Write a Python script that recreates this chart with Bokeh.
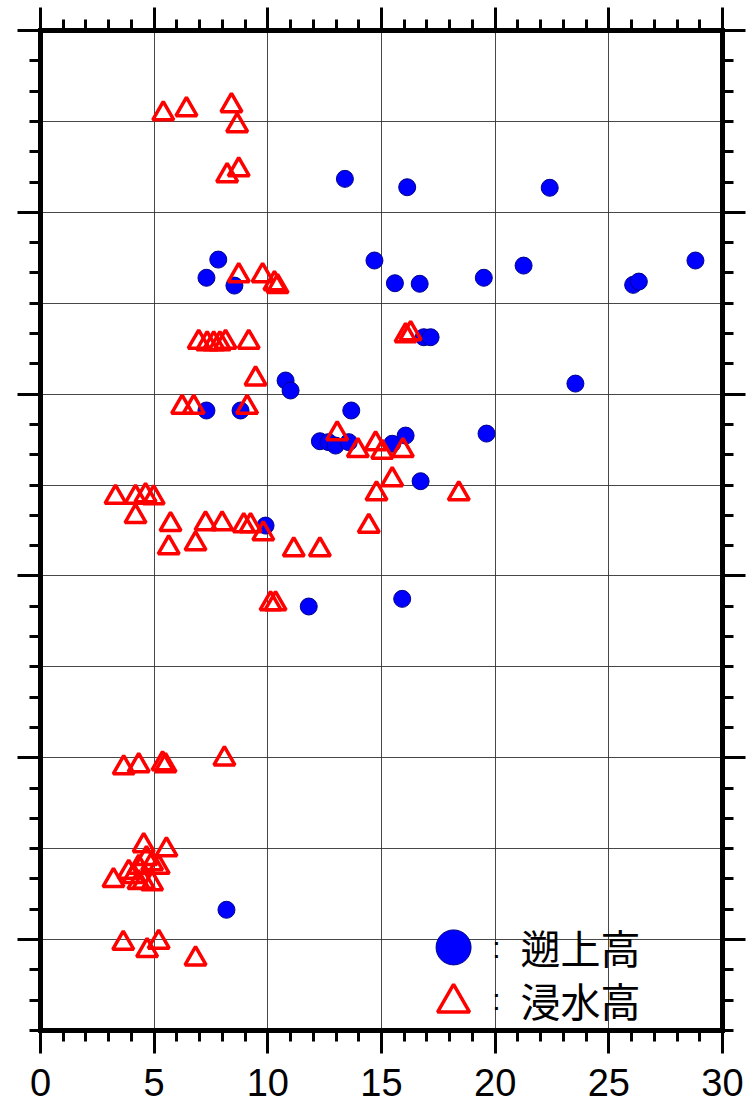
from bokeh.plotting import figure
from bokeh.models import LinearAxis, SingleIntervalTicker, Range1d, CustomJSTickFormatter
from bokeh.embed import file_html
from bokeh.resources import INLINE
from bokeh.core.properties import value

# ---- data: 遡上高 (run-up height) ----
runup_height = [13.39, 16.13, 22.40, 7.82, 7.30, 8.53, 14.69, 15.59, 16.68, 19.50,
                21.25, 26.07, 26.32, 28.81, 16.86, 17.16, 10.78, 11.00, 23.53, 7.30,
                8.80, 13.67, 12.29, 12.67, 12.98, 13.56, 15.47, 16.06, 19.62, 16.72,
                9.90, 11.80, 15.91, 8.18]
runup_lat = [40.184, 40.138, 40.135, 39.740, 39.640, 39.597, 39.735, 39.610, 39.607, 39.640,
             39.707, 39.601, 39.619, 39.735, 39.313, 39.313, 39.075, 39.020, 39.058, 38.910,
             38.910, 38.910, 38.741, 38.736, 38.717, 38.736, 38.727, 38.772, 38.783, 38.521,
             38.277, 37.832, 37.874, 36.164]

# ---- data: 浸水高 (inundation height) ----
inund_height = [5.40, 6.42, 8.40, 8.65, 8.21, 8.72, 8.72, 9.77, 10.29, 10.43,
                6.96, 7.33, 7.62, 7.89, 8.14, 9.16, 9.46, 6.23, 6.74, 9.09,
                16.06, 16.28, 13.05, 13.96, 14.74, 15.03, 15.94, 15.47, 14.78, 14.44, 18.40,
                3.30, 4.18, 4.62, 4.98, 4.18, 5.72, 7.26, 7.99, 8.94, 9.24, 9.80, 5.64, 6.82,
                11.14, 12.29, 10.12, 10.34,
                3.66, 4.32, 5.37, 5.50, 8.09,
                4.54, 5.54, 3.21, 3.88, 4.32, 4.91, 5.20, 4.54, 4.91, 4.31, 4.66, 4.09,
                3.64, 4.69, 5.20, 6.82]
inund_lat = [40.542, 40.565, 40.587, 40.477, 40.202, 40.234, 39.652, 39.652, 39.608, 39.592,
             39.286, 39.277, 39.277, 39.277, 39.286, 39.286, 39.084, 38.928, 38.928, 38.928,
             39.322, 39.333, 38.782, 38.690, 38.727, 38.681, 38.690, 38.530, 38.452, 38.274, 38.452,
             38.433, 38.433, 38.442, 38.430, 38.327, 38.283, 38.287, 38.287, 38.277, 38.277,
             38.232, 38.155, 38.177, 38.144, 38.144, 37.847, 37.847,
             36.945, 36.957, 36.967, 36.957, 36.994,
             36.517, 36.494, 36.325, 36.371, 36.398, 36.417, 36.398, 36.316, 36.307, 36.314,
             36.446, 36.347,
             35.980, 35.940, 35.986, 35.894]

legend_labels = ["遡上高", "浸水高"]

# ---- layout constants ----
X_MIN, X_MAX = 0, 30
Y_MIN, Y_MAX = 35.5, 41.0
LEG_X, LEG_COLON_X, LEG_TEXT_X = 18.17, 20.06, 21.11
LEG_Y1, LEG_Y2, LEG_Y2_TRI = 35.957, 35.670, 35.652

p = figure(frame_width=682, frame_height=1000,
           x_range=Range1d(X_MIN, X_MAX), y_range=Range1d(Y_MIN, Y_MAX),
           output_backend="svg", toolbar_location=None,
           min_border_left=40, min_border_top=30, min_border_right=26, min_border_bottom=82)
p.outline_line_color = None
p.background_fill_color = "white"
p.border_fill_color = "white"

xt = SingleIntervalTicker(interval=5, num_minor_ticks=5)
yt = SingleIntervalTicker(interval=1, num_minor_ticks=6)
blank = CustomJSTickFormatter(code="return ''")


def style_axis(ax, labels=False):
    ax.axis_line_width = 5
    ax.axis_line_color = "black"
    ax.axis_line_cap = "square"
    ax.major_tick_in = 0
    ax.minor_tick_in = 0
    ax.major_tick_out = 23
    ax.minor_tick_out = 11
    ax.major_tick_line_width = 3
    ax.minor_tick_line_width = 3
    ax.major_tick_line_color = "black"
    ax.minor_tick_line_color = "black"
    if labels:
        ax.major_label_text_font = "Liberation Sans"
        ax.major_label_text_font_size = "38px"
        ax.major_label_text_color = "black"
        ax.major_label_standoff = 15
    else:
        ax.formatter = blank
        ax.major_label_text_font_size = "0px"
        ax.major_label_standoff = 0


p.xaxis.ticker = xt
style_axis(p.xaxis[0], labels=True)
p.yaxis.ticker = yt
style_axis(p.yaxis[0])

top = LinearAxis(ticker=xt)
style_axis(top)
p.add_layout(top, "above")
right = LinearAxis(ticker=yt)
style_axis(right)
p.add_layout(right, "right")

p.xgrid.ticker = SingleIntervalTicker(interval=5, num_minor_ticks=0)
p.ygrid.ticker = SingleIntervalTicker(interval=0.5, num_minor_ticks=0)
for g in (p.xgrid[0], p.ygrid[0]):
    g.grid_line_color = "#333333"
    g.grid_line_width = 1
    g.grid_line_alpha = 0.9

# data marks
p.scatter(runup_height, runup_lat, marker="circle", size=17,
          fill_color="#0000ff", line_color="#00008b", line_width=1)
p.scatter(inund_height, inund_lat, marker="triangle", size=21,
          fill_color=None, line_color="#ff0000", line_width=3.5)

# legend (drawn manually)
p.scatter([LEG_X], [LEG_Y1], marker="circle", size=35,
          fill_color="#0000ff", line_color="#00008b", line_width=1)
p.scatter([LEG_X], [LEG_Y2_TRI], marker="triangle", size=32,
          fill_color=None, line_color="#ff0000", line_width=3.5)
p.text([LEG_COLON_X, LEG_COLON_X], [LEG_Y1, LEG_Y2], text=[":", ":"],
       text_font=value("Liberation Sans"), text_font_size="30px",
       text_align="center", text_baseline="middle", text_color="black")
p.text([LEG_TEXT_X, LEG_TEXT_X], [LEG_Y1, LEG_Y2], text=legend_labels,
       text_font=value("Noto Sans CJK JP"), text_font_size="40px",
       text_align="left", text_baseline="middle", text_color="black")

open("out.html", "w").write(file_html(p, INLINE))
